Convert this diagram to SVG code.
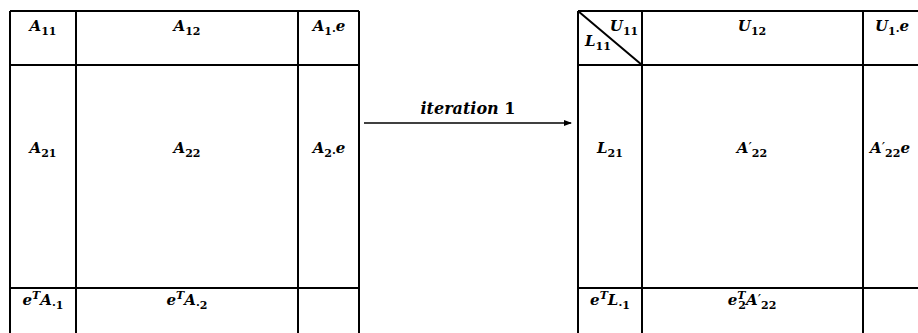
<svg xmlns="http://www.w3.org/2000/svg" width="918" height="333" viewBox="0 0 918 333">
<style>
.g{stroke:#000;stroke-width:2;fill:none}
.t{font-family:"DejaVu Serif","Liberation Serif",serif;font-weight:bold;font-style:italic;font-size:15px;fill:#000;text-anchor:middle}
.s{font-size:11px;font-style:normal}
.si{font-size:11px}
.u{font-style:normal}
.p{font-style:normal;font-weight:normal}
</style>
<defs>
<marker id="ah" markerWidth="8" markerHeight="6" refX="7" refY="3" orient="auto" markerUnits="userSpaceOnUse">
<path d="M0,0 L8,3 L0,6 z" fill="#000"/>
</marker>
</defs>
<rect width="918" height="333" fill="#fff"/>
<g id="matrixA">
<path class="g" d="M10,11 V333 M76,11 V333 M298,11 V333 M359,11 V333 M10,11 H359 M10,65 H359 M10,288 H359"/>
</g>
<g id="matrixLU">
<path class="g" d="M578,11 V333 M642,11 V333 M863,11 V333 M578,11 H918 M578,65 H918 M578,288 H918 M578,11 L642,65"/>
</g>
<g id="A11"><text class="t" x="43" y="31">A<tspan class="s" dy="4">11</tspan></text></g>
<g id="A12"><text class="t" x="187" y="31">A<tspan class="s" dy="4">12</tspan></text></g>
<g id="A1e"><text class="t" x="329" y="31">A<tspan class="s" dy="4">1·</tspan><tspan dy="-4">e</tspan></text></g>
<g id="A21"><text class="t" x="43" y="153">A<tspan class="s" dy="4">21</tspan></text></g>
<g id="A22"><text class="t" x="187" y="153">A<tspan class="s" dy="4">22</tspan></text></g>
<g id="A2e"><text class="t" x="329" y="153">A<tspan class="s" dy="4">2·</tspan><tspan dy="-4">e</tspan></text></g>
<g id="eTA1"><text class="t" x="43" y="305">e<tspan class="si" dy="-6">T</tspan><tspan dy="6">A</tspan><tspan class="s" dy="4">·1</tspan></text></g>
<g id="eTA2"><text class="t" x="187" y="305">e<tspan class="si" dy="-6">T</tspan><tspan dy="6">A</tspan><tspan class="s" dy="4">·2</tspan></text></g>
<g id="cellA3"></g>
<g id="LU11">
<text class="t" x="624" y="31">U<tspan class="s" dy="4">11</tspan></text>
<text class="t" x="598" y="46">L<tspan class="s" dy="4">11</tspan></text>
</g>
<g id="U12"><text class="t" x="752" y="31">U<tspan class="s" dy="4">12</tspan></text></g>
<g id="U1e"><text class="t" x="892" y="31">U<tspan class="s" dy="4">1·</tspan><tspan dy="-4">e</tspan></text></g>
<g id="L21"><text class="t" x="610" y="153">L<tspan class="s" dy="4">21</tspan></text></g>
<g id="A22p"><text class="t" x="752" y="153">A<tspan class="p">′</tspan><tspan class="s" dy="4">22</tspan></text></g>
<g id="A22pe"><text class="t" x="890" y="153">A<tspan class="p">′</tspan><tspan class="s" dy="4">22</tspan><tspan dy="-4">e</tspan></text></g>
<g id="eTL1"><text class="t" x="610" y="305">e<tspan class="si" dy="-6">T</tspan><tspan dy="6">L</tspan><tspan class="s" dy="4">·1</tspan></text></g>
<g id="e2TA22p"><text class="t" x="752" y="305">e<tspan class="si" dy="-6">T</tspan><tspan class="s" dx="-7" dy="10">2</tspan><tspan dy="-4">A</tspan><tspan class="p">′</tspan><tspan class="s" dy="4">22</tspan></text></g>
<g id="cellLU3"></g>
<g id="connectors">
<line x1="364" y1="123" x2="571" y2="123" stroke="#000" stroke-width="1.5" marker-end="url(#ah)"/>
<text class="t" x="468" y="114" style="font-size:16px">iteration <tspan class="u">1</tspan></text>
</g>
</svg>
